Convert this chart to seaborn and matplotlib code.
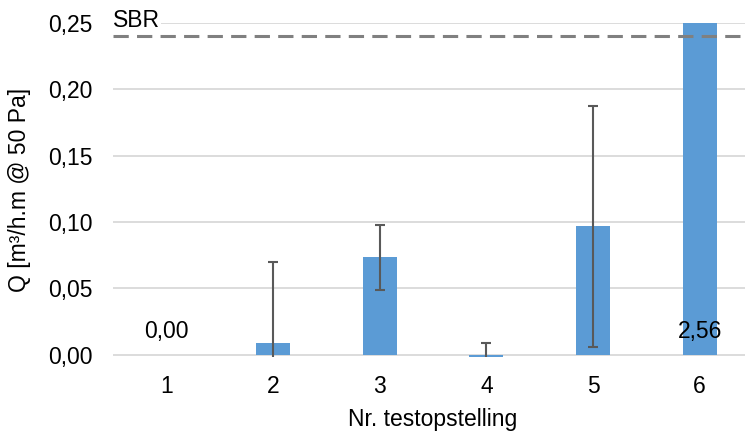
import matplotlib
matplotlib.use('Agg')
import matplotlib.pyplot as plt
import pandas as pd
import seaborn as sns

# Data
setups = ['1', '2', '3', '4', '5', '6']
q_values = [0.0, 0.0085, 0.0735, -0.0015, 0.097, 2.56]
err_low = [None, -0.01, 0.049, -0.01, 0.006, None]
err_high = [None, 0.0695, 0.098, 0.0085, 0.1875, None]
value_labels = {0: '0,00', 5: '2,56'}
sbr_limit = 0.24
y_ticks = [0.0, 0.05, 0.10, 0.15, 0.20, 0.25]

df = pd.DataFrame({'setup': setups, 'q': q_values})

sns.set_style('white')
plt.rcParams['font.family'] = ['Liberation Sans', 'DejaVu Sans']
plt.rcParams['text.color'] = 'black'
plt.rcParams['axes.labelcolor'] = 'black'
plt.rcParams['xtick.color'] = 'black'
plt.rcParams['ytick.color'] = 'black'
fs = 16.5

fig = plt.figure(figsize=(7.45, 4.32), dpi=100)
ax = fig.add_axes([113 / 745, 1 - 357 / 432, 640 / 745, 334 / 432])

sns.barplot(data=df, x='setup', y='q', color='#5b9bd5', saturation=1,
            width=0.32, linewidth=0, ax=ax, zorder=3)

# asymmetric error bars
for i, (lo, hi, v) in enumerate(zip(err_low, err_high, q_values)):
    if lo is None:
        continue
    ax.errorbar(i, v, yerr=[[v - lo], [hi - v]], fmt='none', ecolor='#595959',
                elinewidth=1.5, capsize=3.3, capthick=1.5, zorder=4)

for i, txt in value_labels.items():
    ax.text(i, 0.0175, txt, ha='center', va='center', fontsize=fs, zorder=5)

ax.axhline(sbr_limit, color='#808080', ls=(0, (5, 2.7)), lw=2.2, zorder=5)
ax.text(-0.5, 0.2517, 'SBR', ha='left', va='center', fontsize=fs, zorder=6,
        bbox=dict(facecolor='white', edgecolor='none', pad=0.5))

ax.set_ylim(-0.0018, 0.25)
ax.set_xlim(-0.5, 5.5)
ax.set_yticks(y_ticks)
ax.set_yticklabels([f'{t:.2f}'.replace('.', ',') for t in y_ticks])
ax.yaxis.grid(True, color='#d9d9d9', lw=1.3, zorder=0)
ax.set_axisbelow(True)
for s in ax.spines.values():
    s.set_visible(False)
ax.tick_params(axis='y', length=0, labelsize=fs, pad=15)
ax.tick_params(axis='x', length=0, labelsize=fs, pad=13)

ax.set_xlabel('Nr. testopstelling', fontsize=fs, labelpad=7)
ax.set_ylabel('Q [m³/h.m @ 50 Pa]', fontsize=fs, labelpad=12)

fig.savefig('out.png', dpi=100)
